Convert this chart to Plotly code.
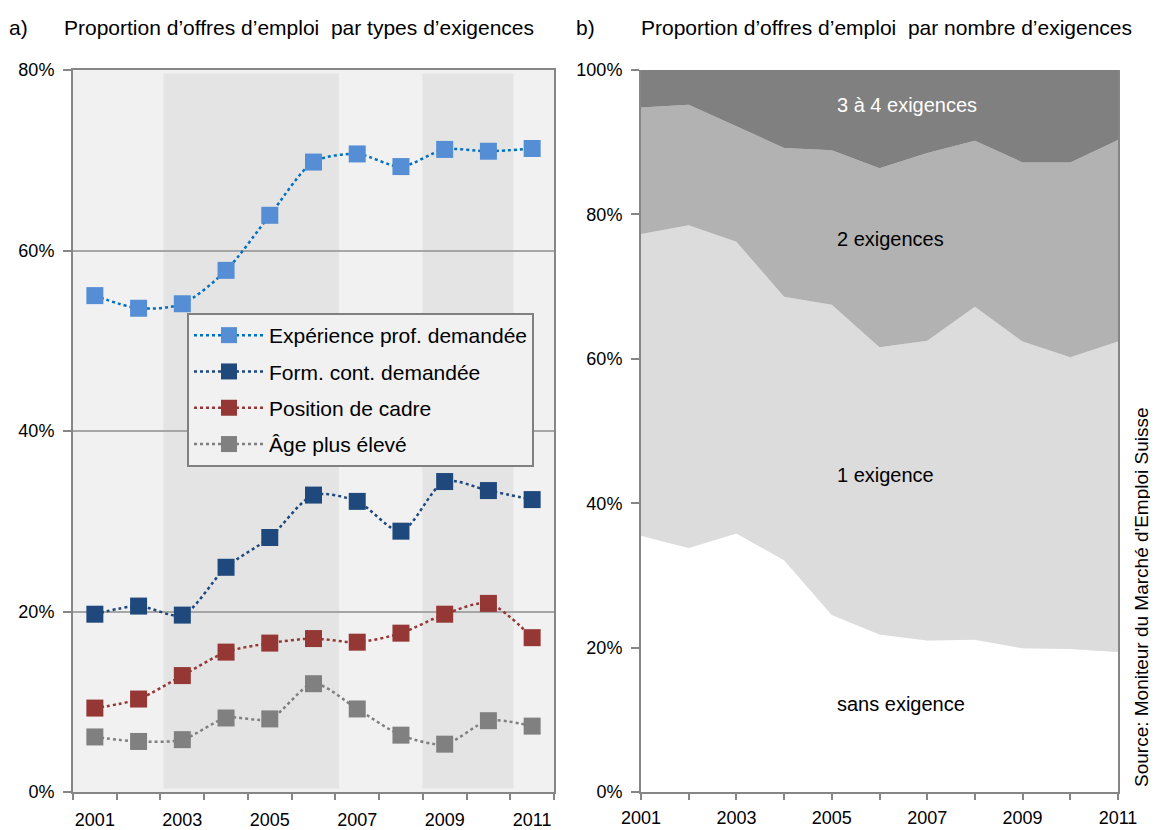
import plotly.graph_objects as go

years = [2001, 2002, 2003, 2004, 2005, 2006, 2007, 2008, 2009, 2010, 2011]
year_labels = [str(y) for y in years]

# a) part des offres par type d'exigence (%)
experience = [55.0, 53.6, 54.1, 57.8, 63.9, 69.8, 70.7, 69.3, 71.2, 71.0, 71.3]
formation = [19.7, 20.6, 19.6, 24.9, 28.2, 32.9, 32.2, 28.9, 34.4, 33.4, 32.4]
cadre = [9.3, 10.3, 12.9, 15.5, 16.5, 17.0, 16.6, 17.6, 19.7, 20.9, 17.1]
age = [6.1, 5.6, 5.8, 8.2, 8.1, 12.0, 9.2, 6.3, 5.3, 7.9, 7.3]

# b) part des offres par nombre d'exigences (%)
sans_exig = [35.5, 33.8, 35.8, 32.1, 24.5, 21.8, 21.0, 21.1, 19.9, 19.8, 19.4]
une_exig = [41.8, 44.7, 40.4, 36.5, 43.0, 39.8, 41.5, 46.1, 42.5, 40.4, 43.0]
deux_exig = [17.5, 16.7, 16.0, 20.6, 21.4, 24.8, 26.0, 23.0, 24.8, 27.0, 27.9]
trois_exig = [5.2, 4.8, 7.8, 10.8, 11.1, 13.6, 11.5, 9.8, 12.8, 12.8, 9.7]

FONT = "Liberation Sans, Arial, sans-serif"
AXIS_GREY = "#868686"

# la page a une marge de 8 px : on travaille en pixels de l'image finale
W, H, OFF = 1150, 822, 8


def fx(px):
    return (px - OFF) / W


def fy(py):
    return 1 - (py - OFF) / H


fig = go.Figure()

series = [
    ("Expérience prof. demandée", experience, "#0070C0", "#558ED5"),
    ("Form. cont. demandée", formation, "#1F497D", "#1F497D"),
    ("Position de cadre", cadre, "#953735", "#953735"),
    ("Âge plus élevé", age, "#808080", "#808080"),
]
for name, vals, lcol, mcol in series:
    fig.add_trace(go.Scatter(
        x=year_labels, y=vals, name=name, legendgroup=name, mode="lines+markers",
        line=dict(color=lcol, width=2.5, dash="dot", shape="spline", smoothing=0.8),
        marker=dict(symbol="square", size=17, color=mcol),
        xaxis="x", yaxis="y"))

stack = [
    ("sans exigence", sans_exig, "#ffffff"),
    ("1 exigence", une_exig, "#dcdcdc"),
    ("2 exigences", deux_exig, "#b2b2b2"),
    ("3 à 4 exigences", trois_exig, "#808080"),
]
for name, vals, col in stack:
    fig.add_trace(go.Scatter(
        x=years, y=vals, name=name, mode="lines", stackgroup="one",
        line=dict(width=0, color=col), fillcolor=col, showlegend=False,
        xaxis="x2", yaxis="y2"))

# bandes grisées (graphique a)
for x0, x1 in [(1.57, 5.58), (7.49, 9.57)]:
    fig.add_shape(type="rect", xref="x", yref="y", x0=x0, x1=x1, y0=0.4, y1=79.6,
                  fillcolor="#e4e4e4", line_width=0, layer="below")

fig.update_layout(
    width=W, height=H,
    margin=dict(l=0, r=0, t=0, b=0),
    paper_bgcolor="white",
    font=dict(family=FONT, size=18, color="black"),
    xaxis=dict(domain=[fx(73), fx(554)], type="category", tickson="boundaries",
               range=[-0.5, 10.5], tickvals=year_labels, tickangle=0,
               ticktext=[y if i % 2 == 0 else "" for i, y in enumerate(year_labels)],
               ticks="outside", ticklen=6, tickcolor=AXIS_GREY, tickwidth=2,
               ticklabelstandoff=10,
               showline=True, linecolor=AXIS_GREY, linewidth=2, mirror=True,
               showgrid=False, zeroline=False, automargin=False),
    yaxis=dict(domain=[fy(792), fy(70)], range=[0, 80], tickvals=[0, 20, 40, 60, 80],
               ticktext=["0%", "20%", "40%", "60%", "80%"],
               ticks="outside", ticklen=8, tickcolor=AXIS_GREY, tickwidth=2,
               ticklabelstandoff=5,
               showline=True, linecolor=AXIS_GREY, linewidth=2, mirror=True,
               showgrid=True, gridcolor="#a6a6a6", gridwidth=1.5, zeroline=False,
               automargin=False),
    xaxis2=dict(domain=[fx(641), fx(1118)], range=[2001, 2011], tickvals=years,
                ticktext=[str(y) if i % 2 == 0 else "" for i, y in enumerate(years)],
                tickangle=0,
                ticks="outside", ticklen=6, tickcolor=AXIS_GREY, tickwidth=2,
                ticklabelstandoff=2,
                showline=True, linecolor=AXIS_GREY, linewidth=2,
                showgrid=False, zeroline=False, automargin=False, anchor="y2"),
    yaxis2=dict(domain=[fy(792), fy(70)], range=[0, 100],
                tickvals=[0, 20, 40, 60, 80, 100],
                ticktext=["0%", "20%", "40%", "60%", "80%", "100%"],
                ticks="outside", ticklen=8, tickcolor=AXIS_GREY, tickwidth=2,
                ticklabelstandoff=5,
                showline=True, linecolor=AXIS_GREY, linewidth=2, mirror=True,
                showgrid=False, zeroline=False, automargin=False, anchor="x2"),
    plot_bgcolor="#f1f1f1",
    legend=dict(x=fx(187), y=fy(313), xanchor="left", yanchor="top",
                bgcolor="#f1f1f1", bordercolor="#808080", borderwidth=2,
                font=dict(size=21), traceorder="grouped", tracegroupgap=6,
                itemwidth=70),
    showlegend=True,
)

annots = [
    dict(x=fx(18), text="a)", xanchor="center"),
    dict(x=fx(62), text="Proportion d’offres d’emploi  par types d’exigences", xanchor="left"),
    dict(x=fx(585), text="b)", xanchor="center"),
    dict(x=fx(639), text="Proportion d’offres d’emploi  par nombre d’exigences", xanchor="left"),
]
for a in annots:
    fig.add_annotation(xref="paper", yref="paper", y=fy(27), yanchor="middle",
                       showarrow=False, font=dict(size=21), **a)

# étiquettes des aires (graphique b)
area_labels = [
    ("3 à 4 exigences", 95.2, "white"),
    ("2 exigences", 76.6, "black"),
    ("1 exigence", 43.9, "black"),
    ("sans exigence", 12.2, "black"),
]
for txt, yv, col in area_labels:
    fig.add_annotation(xref="x2", yref="y2", x=2005.07, y=yv, text=txt, showarrow=False,
                       xanchor="left", font=dict(size=20, color=col))

fig.add_annotation(xref="paper", yref="paper", x=fx(1141), y=fy(597),
                   text="Source: Moniteur du Marché d'Emploi Suisse", textangle=-90,
                   showarrow=False, font=dict(size=19), xanchor="center", yanchor="middle")

fig.write_html("out.html")
